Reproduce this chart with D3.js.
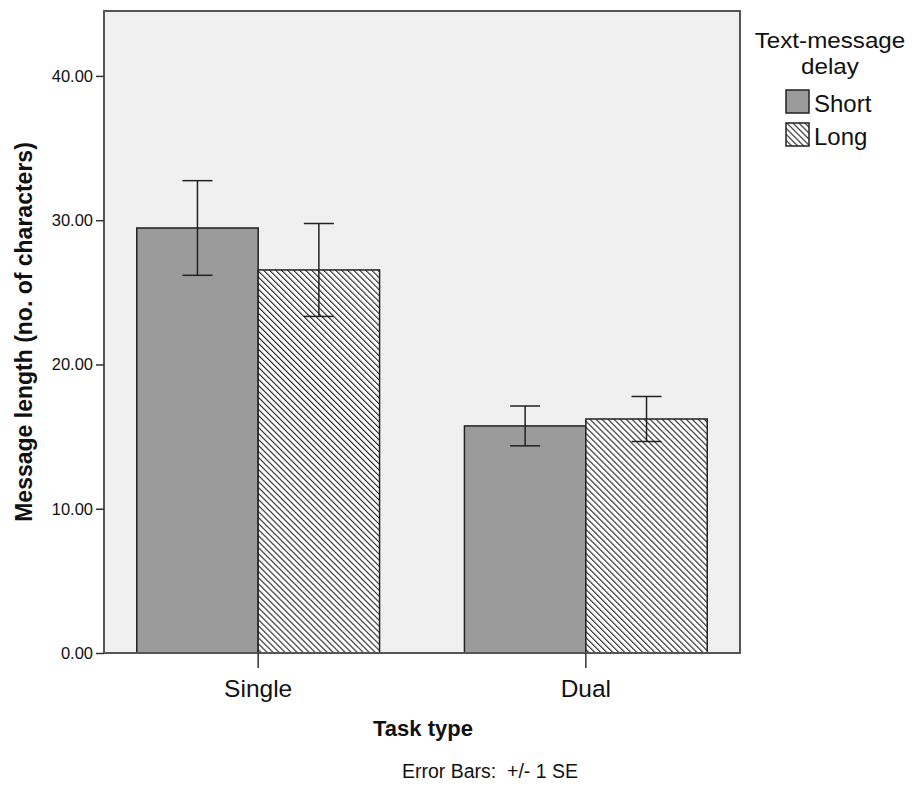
<!DOCTYPE html>
<html>
<head>
  <meta charset="utf-8">
  <script src="https://d3js.org/d3.v7.min.js"></script>
  <style>
    body { margin: 0; background: #fff; }
    text { font-family: "Liberation Sans", Arial, sans-serif; fill: #111; }
  </style>
</head>
<body>
<script>
  const tasks = ["Single", "Dual"];
  const delays = ["Short", "Long"];
  // mean message length per task x delay
  const means = [[29.46, 26.55], [15.74, 16.22]];
  // +/- 1 SE
  const se = [[3.28, 3.22], [1.38, 1.56]];
  const yTicks = [0, 10, 20, 30, 40];

  const W = 912, H = 787;
  const plot = {left: 104, right: 740, top: 11, bottom: 653};
  const FONT = "'Liberation Sans', Arial, sans-serif";

  const svg = d3.select("body").append("svg")
    .attr("width", W).attr("height", H);

  const defs = svg.append("defs");
  const pat = defs.append("pattern")
    .attr("id", "hatch")
    .attr("patternUnits", "userSpaceOnUse")
    .attr("width", 4.25).attr("height", 4.25)
    .attr("patternTransform", "rotate(-45)");
  pat.append("rect").attr("width", 4.25).attr("height", 4.25).attr("fill", "#fff");
  pat.append("line")
    .attr("x1", 0).attr("y1", 0).attr("x2", 0).attr("y2", 4.25)
    .attr("stroke", "#222").attr("stroke-width", 2.2);

  const y = d3.scaleLinear().domain([0, 44.5]).range([plot.bottom, plot.top]);
  const x = d3.scaleBand().domain(tasks)
    .range([plot.left, plot.right])
    .paddingInner(0.259).paddingOuter(0.1);
  const xs = d3.scaleBand().domain(delays).range([0, x.bandwidth()]);

  const fills = {Short: "#9b9b9b", Long: "url(#hatch)"};

  // plot background
  svg.append("rect")
    .attr("x", plot.left).attr("y", plot.top)
    .attr("width", plot.right - plot.left).attr("height", plot.bottom - plot.top)
    .attr("fill", "#f0f0f0");

  // bars
  const groups = svg.append("g").selectAll("g")
    .data(tasks)
    .join("g")
      .attr("transform", d => `translate(${x(d)},0)`);

  const cells = (d, i) => delays.map((k, j) => ({key: k, v: means[i][j], e: se[i][j]}));

  groups.selectAll("rect")
    .data(cells)
    .join("rect")
      .attr("x", d => xs(d.key))
      .attr("y", d => y(d.v))
      .attr("width", xs.bandwidth())
      .attr("height", d => y(0) - y(d.v))
      .attr("fill", d => fills[d.key])
      .attr("stroke", "#222")
      .attr("stroke-width", 1.5);

  // error bars
  const eb = groups.selectAll(".err")
    .data(cells)
    .join("g")
      .attr("class", "err")
      .attr("stroke", "#222")
      .attr("stroke-width", 1.5);
  const cx = d => xs(d.key) + xs.bandwidth() / 2;
  eb.append("line")
    .attr("x1", cx).attr("x2", cx)
    .attr("y1", d => y(d.v + d.e)).attr("y2", d => y(d.v - d.e));
  eb.append("line")
    .attr("x1", d => cx(d) - 15).attr("x2", d => cx(d) + 15)
    .attr("y1", d => y(d.v + d.e)).attr("y2", d => y(d.v + d.e));
  eb.append("line")
    .attr("x1", d => cx(d) - 15).attr("x2", d => cx(d) + 15)
    .attr("y1", d => y(d.v - d.e)).attr("y2", d => y(d.v - d.e));

  // frame
  svg.append("rect")
    .attr("x", plot.left).attr("y", plot.top)
    .attr("width", plot.right - plot.left).attr("height", plot.bottom - plot.top)
    .attr("fill", "none").attr("stroke", "#555").attr("stroke-width", 2);

  // y axis
  const yAxis = svg.append("g")
    .attr("transform", `translate(${plot.left},0)`)
    .call(d3.axisLeft(y).tickValues(yTicks).tickFormat(d3.format(".2f")).tickSize(8).tickPadding(3))
    .call(g => g.select(".domain").remove());
  yAxis.selectAll(".tick line").attr("stroke", "#333").attr("stroke-width", 1.5);
  yAxis.selectAll("text").style("font-size", "16.5px").attr("fill", "#111")
    .style("font-family", FONT);

  // x axis
  const xAxis = svg.append("g")
    .attr("transform", `translate(0,${plot.bottom})`)
    .call(d3.axisBottom(x).tickSize(15).tickPadding(0))
    .call(g => g.select(".domain").remove());
  xAxis.selectAll(".tick line").attr("stroke", "#333").attr("stroke-width", 1.5);
  xAxis.selectAll("text").attr("y", 44).attr("dy", null)
    .style("font-size", "24.5px").attr("fill", "#111")
    .style("font-family", FONT);

  // axis titles
  svg.append("text")
    .attr("transform", `translate(32,${(plot.top + plot.bottom) / 2}) rotate(-90)`)
    .attr("text-anchor", "middle")
    .style("font-size", "23px").style("font-weight", "bold")
    .text("Message length (no. of characters)");

  svg.append("text")
    .attr("x", 423).attr("y", 736)
    .attr("text-anchor", "middle")
    .style("font-size", "22px").style("font-weight", "bold")
    .text("Task type");

  svg.append("text")
    .attr("x", 490).attr("y", 778)
    .attr("text-anchor", "middle")
    .attr("xml:space", "preserve")
    .style("white-space", "pre")
    .style("font-size", "19.5px")
    .text("Error Bars:  +/- 1 SE");

  // legend
  const leg = svg.append("g");
  leg.append("text").attr("text-anchor", "middle")
    .attr("transform", "translate(830,48) scale(1.1,1)")
    .style("font-size", "22px").text("Text-message");
  leg.append("text").attr("text-anchor", "middle")
    .attr("transform", "translate(830,74) scale(1.1,1)")
    .style("font-size", "22px").text("delay");
  const li = leg.selectAll(".item").data(delays).join("g")
    .attr("class", "item")
    .attr("transform", (d, i) => `translate(786,${90 + i * 33})`);
  li.append("rect").attr("width", 23).attr("height", 23)
    .attr("fill", d => fills[d]).attr("stroke", "#222").attr("stroke-width", 1.5);
  li.append("text").attr("x", 28).attr("y", 22)
    .style("font-size", "24px").text(d => d);
</script>
</body>
</html>
